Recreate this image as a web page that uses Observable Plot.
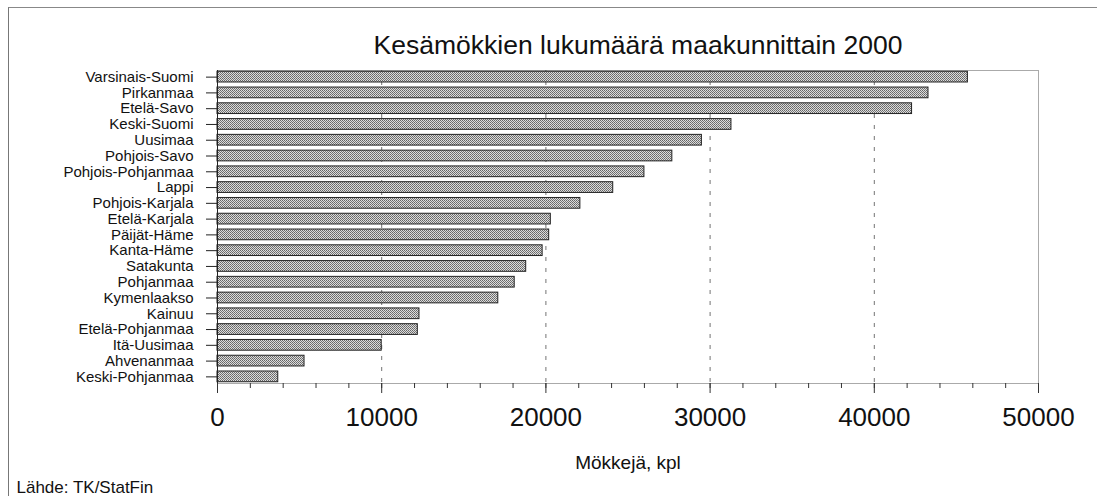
<!DOCTYPE html>
<html>
<head>
<meta charset="utf-8">
<script src="https://cdn.jsdelivr.net/npm/d3@7"></script>
<script src="https://cdn.jsdelivr.net/npm/@observablehq/plot@0.6"></script>
<style>
  html, body { margin: 0; padding: 0; background: #fff; }
  #wrap { position: relative; width: 1097px; height: 496px; overflow: hidden; }
  #border { position: absolute; left: 8px; top: 7px; width: 1095px; height: 495px;
            border-left: 1px solid #777; border-top: 1px solid #888; pointer-events: none; }
</style>
</head>
<body>
<div id="wrap"><div id="border"></div></div>
<script>
const regions = [
  "Varsinais-Suomi", "Pirkanmaa", "Etelä-Savo", "Keski-Suomi", "Uusimaa",
  "Pohjois-Savo", "Pohjois-Pohjanmaa", "Lappi", "Pohjois-Karjala", "Etelä-Karjala",
  "Päijät-Häme", "Kanta-Häme", "Satakunta", "Pohjanmaa", "Kymenlaakso",
  "Kainuu", "Etelä-Pohjanmaa", "Itä-Uusimaa", "Ahvenanmaa", "Keski-Pohjanmaa"
];
const cottages = [
  45700, 43300, 42300, 31300, 29500,
  27700, 26000, 24100, 22100, 20300,
  20200, 19800, 18800, 18100, 17100,
  12300, 12200, 10000, 5300, 3700
];
const majorTicks = [0, 10000, 20000, 30000, 40000, 50000];
const minorTicks = d3.range(0, 50001, 2000);
const gridTicks = [10000, 20000, 30000, 40000];
const titleText = "Kesämökkien lukumäärä maakunnittain 2000";
const xLabel = "Mökkejä, kpl";
const sourceText = "Lähde: TK/StatFin";

const data = regions.map((r, i) => ({region: r, value: cottages[i]}));
const font = "'Liberation Sans', Arial, Helvetica, sans-serif";

const chart = Plot.plot({
  width: 1097,
  height: 496,
  marginLeft: 217,
  marginRight: 59,
  marginTop: 70,
  marginBottom: 113,
  style: {fontFamily: font, color: "#111", background: "transparent"},
  x: {domain: [0, 50000]},
  y: {domain: regions, paddingInner: 0.32, paddingOuter: 0.08, round: false},
  marks: [
    Plot.frame({stroke: "#aaa"}),
    Plot.gridX(gridTicks, {stroke: "#444", strokeOpacity: 0.75, strokeDasharray: "4,7"}),
    Plot.barX(data, {x: "value", y: "region", fill: "url(#dither)", stroke: "#222", strokeWidth: 1}),
    Plot.axisY({tickSize: 11, tickPadding: 13, fontSize: 15, label: null, stroke: "#222"}),
    Plot.axisX({ticks: minorTicks, tickSize: 5, tickFormat: () => "", label: null, stroke: "#333"}),
    Plot.axisX({ticks: majorTicks, tickSize: 10, tickPadding: 14, fontSize: 26, tickFormat: d => String(d), label: null, stroke: "#333"}),
    Plot.ruleX([0], {stroke: "#222"}),
    Plot.text([titleText], {frameAnchor: "top", text: d => d, fontSize: 26.5, lineAnchor: "bottom", dy: -17, dx: 10, fill: "#111"}),
    Plot.text([xLabel], {frameAnchor: "bottom", text: d => d, fontSize: 19, lineAnchor: "bottom", dy: 85, fill: "#111"}),
    Plot.text([sourceText], {frameAnchor: "bottom-left", text: d => d, fontSize: 17, textAnchor: "start", lineAnchor: "bottom", dx: -201, dy: 109, fill: "#111"})
  ]
});

const svg = d3.select(chart);
const defs = svg.insert("defs", ":first-child");
const pat = defs.append("pattern").attr("id", "dither").attr("width", 2).attr("height", 2).attr("patternUnits", "userSpaceOnUse");
pat.append("rect").attr("width", 2).attr("height", 2).attr("fill", "#dcdcdc");
pat.append("rect").attr("width", 1).attr("height", 1).attr("fill", "#666");
pat.append("rect").attr("x", 1).attr("y", 1).attr("width", 1).attr("height", 1).attr("fill", "#777");

document.getElementById("wrap").prepend(chart);
</script>
</body>
</html>
